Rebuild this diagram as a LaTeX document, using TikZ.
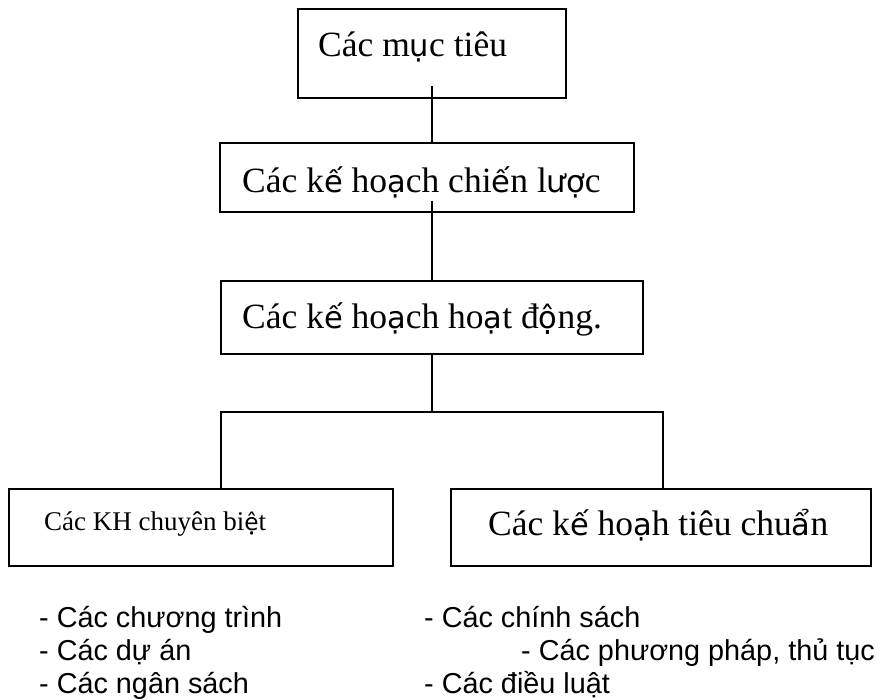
\documentclass[tikz,border=0pt]{standalone}
\usepackage{fontspec}
\setmainfont{Liberation Serif}
\newfontfamily\listfont{Liberation Sans}
% extended Vietnamese letters are set in a sans face
\newfontfamily\fbfont[Scale=0.86]{DejaVu Sans}
\newcommand\vx[1]{{\fbfont #1}}
\begin{document}
\begin{tikzpicture}[x=1pt,y=-1pt,
  box/.style={draw,line width=1.3pt},
  link/.style={line width=1.3pt},
  bigtext/.style={anchor=base west,inner sep=0pt,font=\fontsize{35.5}{42}\selectfont},
  smalltext/.style={anchor=base west,inner sep=0pt,font=\fontsize{27}{32}\selectfont},
  listtext/.style={anchor=base west,inner sep=0pt,font=\listfont\fontsize{28.8}{34}\selectfont}]
\useasboundingbox (0,0) rectangle (880,700);
% boxes
\draw[box] (298,9) rectangle (566,98);
\draw[box] (220,143) rectangle (634,212);
\draw[box] (221,281) rectangle (643,354);
\draw[box] (9,489) rectangle (393,566);
\draw[box] (451,489) rectangle (871,566);
% box texts
\node[bigtext] (t1) at (318,57) {Các m\vx{ụ}c tiêu};
\node[bigtext] (t2) at (242,193) {Các k\vx{ế} ho\vx{ạ}ch chi\vx{ế}n l\vx{ượ}c};
\node[bigtext] (t3) at (242,328) {Các k\vx{ế} ho\vx{ạ}ch ho\vx{ạ}t đ\vx{ộ}ng.};
\node[smalltext] (t4) at (44,530) {Các KH chuyên bi\vx{ệ}t};
\node[bigtext] (t5) at (488,535) {Các k\vx{ế} ho\vx{ạ}h tiêu chu\vx{ẩ}n};
% connectors
\coordinate (a1) at (432,86);
\coordinate (a2) at (432,143);
\coordinate (b1) at (432,201);
\coordinate (b2) at (432,281);
\coordinate (c1) at (432,354);
\coordinate (c2) at (432,412);
\coordinate (cl) at (221,412);
\coordinate (cr) at (663,412);
\coordinate (dl) at (221,489);
\coordinate (dr) at (663,489);
\draw[link] (a1) -- (a2);
\draw[link] (b1) -- (b2);
\draw[link] (c1) -- (c2);
\draw[link] (dl) -- (cl) -- (cr) -- (dr);
% lists
\node[listtext] (l1) at (39,627) {- Các chương trình};
\node[listtext] (l2) at (39,660) {- Các dự án};
\node[listtext] (l3) at (39,693) {- Các ngân sách};
\node[listtext] (r1) at (424,627) {- Các chính sách};
\node[listtext] (r2) at (521,660) {- Các phương pháp, thủ tục};
\node[listtext] (r3) at (424,693) {- Các điều luật};
\end{tikzpicture}
\end{document}
